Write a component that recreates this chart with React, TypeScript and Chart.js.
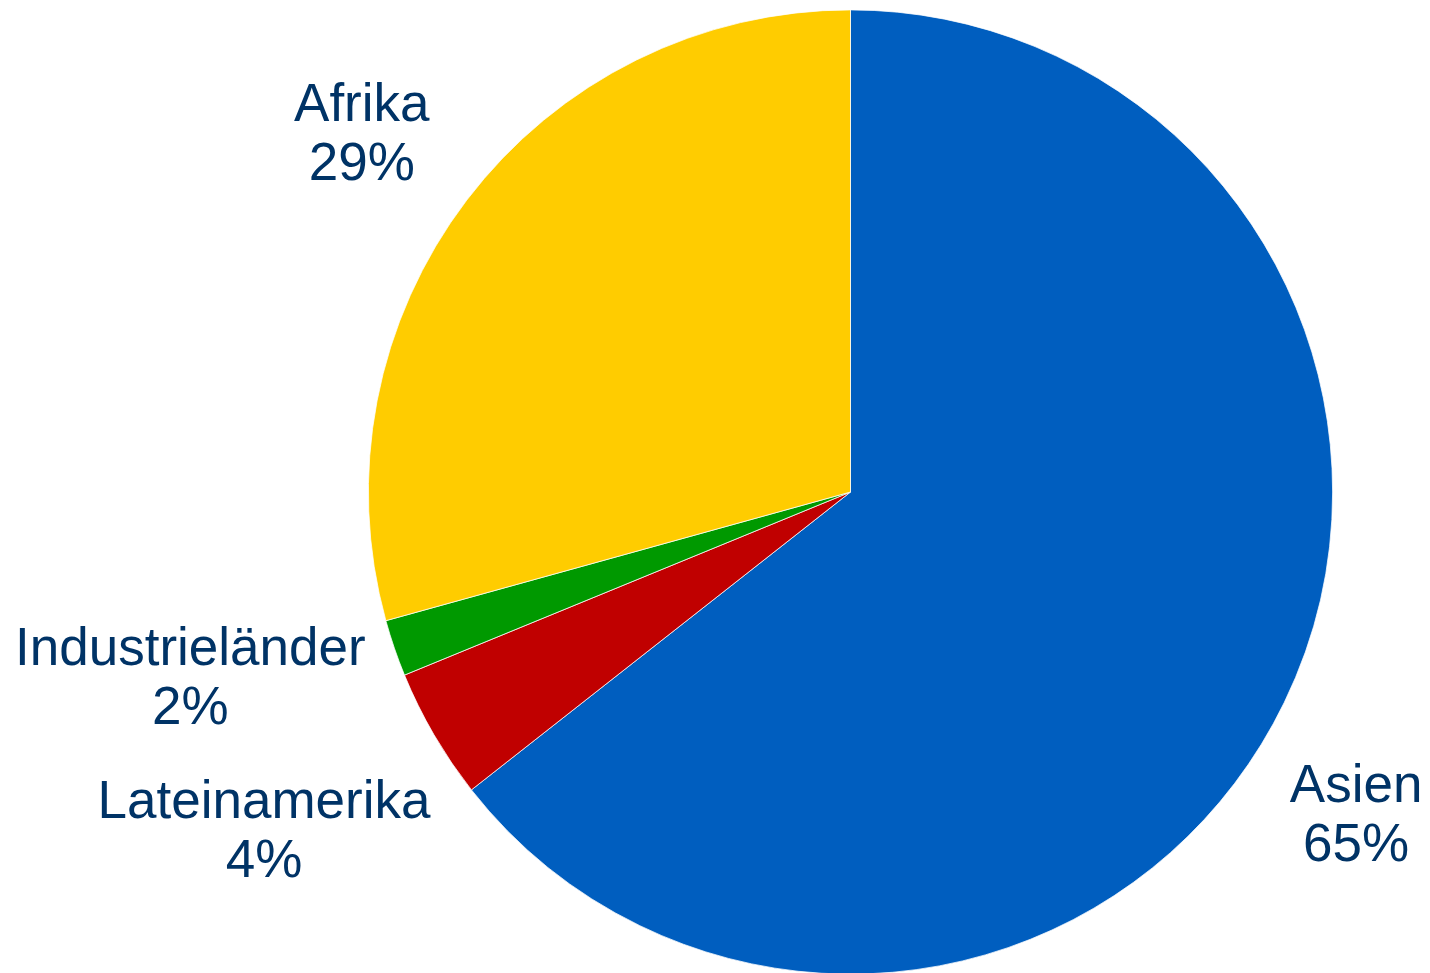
import React, { useEffect, useRef } from "react";
import { Chart, registerables } from "chart.js";

Chart.register(...registerables);

const categories = ["Asien", "Lateinamerika", "Industrieländer", "Afrika"];
const shares = [64.4, 4.4, 1.9, 29.3];
const percentLabels = ["65%", "4%", "2%", "29%"];
const sliceColors = ["#005EBF", "#C00000", "#009900", "#FFCC00"];

// label placement relative to the outer-edge midpoint of each slice
const labelOffsets = [
  [72, 99],
  [-170, 83],
  [-204, 17],
  [-105, -79],
];

const labelPlugin = {
  id: "outsideLabels",
  afterDatasetsDraw(chart: any) {
    const { ctx } = chart;
    const meta = chart.getDatasetMeta(0);
    ctx.save();
    ctx.font = '53px "Liberation Sans", Arial, sans-serif';
    ctx.fillStyle = "#003366";
    ctx.textAlign = "center";
    ctx.textBaseline = "alphabetic";
    meta.data.forEach((arc: any, i: number) => {
      const { x, y, startAngle, endAngle, outerRadius } = arc.getProps(
        ["x", "y", "startAngle", "endAngle", "outerRadius"],
        true
      );
      const mid = (startAngle + endAngle) / 2;
      const ax = x + Math.cos(mid) * outerRadius;
      const ay = y + Math.sin(mid) * outerRadius;
      const lx = ax + labelOffsets[i][0];
      const ly = ay + labelOffsets[i][1];
      ctx.fillText(categories[i], lx, ly);
      ctx.fillText(percentLabels[i], lx, ly + 59);
    });
    ctx.restore();
  },
};

export default function App() {
  const ref = useRef<HTMLCanvasElement | null>(null);
  useEffect(() => {
    if (!ref.current) return;
    const chart = new Chart(ref.current, {
      type: "pie",
      data: {
        labels: categories,
        datasets: [
          {
            data: shares,
            backgroundColor: sliceColors,
            borderColor: "#ffffff",
            borderWidth: 0.75,
          },
        ],
      },
      options: {
        animation: false,
        responsive: false,
        maintainAspectRatio: false,
        layout: { padding: { left: 368, right: 97, top: 9.5, bottom: 5.5 } },
        plugins: {
          legend: { display: false },
          tooltip: { enabled: false },
        },
      },
      plugins: [labelPlugin],
    });
    return () => chart.destroy();
  }, []);
  return (
    <div
      style={{
        position: "fixed",
        left: 0,
        top: 0,
        width: 1430,
        height: 973,
        overflow: "hidden",
        background: "#ffffff",
      }}
    >
      <canvas ref={ref} width={1430} height={980} style={{ display: "block" }} />
    </div>
  );
}
